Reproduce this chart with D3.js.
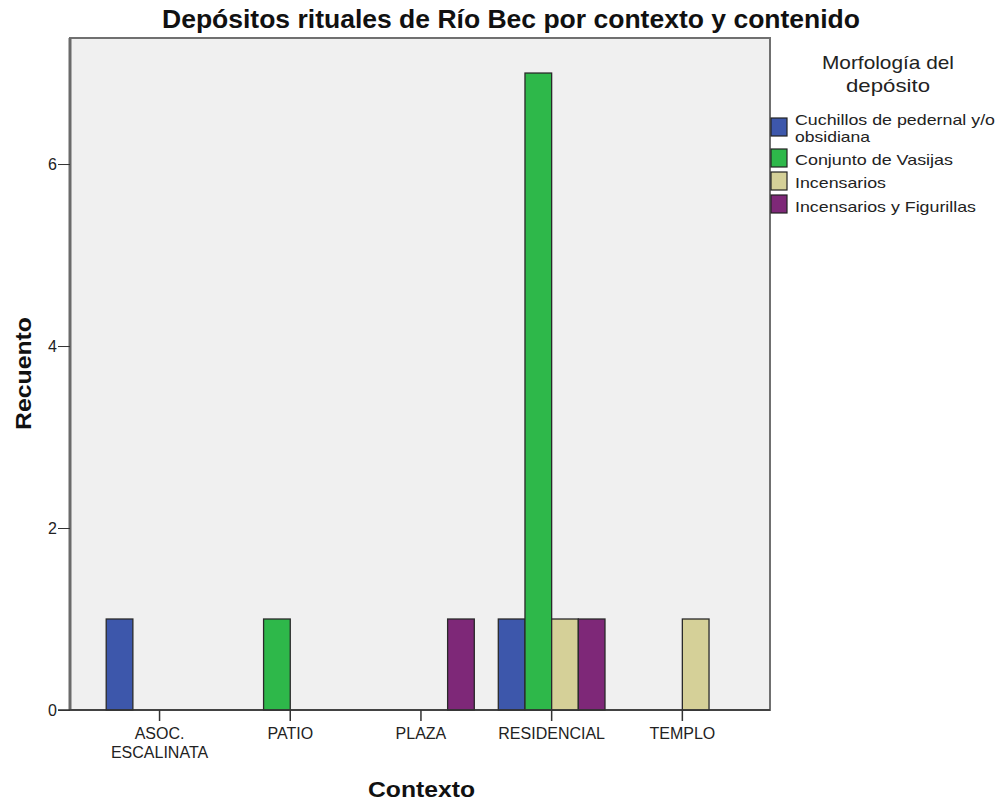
<!DOCTYPE html>
<html><head><meta charset="utf-8">
<script src="https://cdn.jsdelivr.net/npm/d3@7"></script>
<style>body{margin:0;background:#fff}svg{display:block}text{font-family:"Liberation Sans",Arial,sans-serif}</style>
</head><body>
<svg id="c" width="1000" height="806"></svg>
<script>
const categories = ["ASOC.\nESCALINATA","PATIO","PLAZA","RESIDENCIAL","TEMPLO"];
const seriesNames = ["Cuchillos de pedernal y/o obsidiana","Conjunto de Vasijas","Incensarios","Incensarios y Figurillas"];
const seriesLegend = [["Cuchillos de pedernal y/o","obsidiana"],["Conjunto de Vasijas"],["Incensarios"],["Incensarios y Figurillas"]];
const colors = ["#3d57ab","#2eb84a","#d5d098","#7e2878"];
// counts per category, one array per series (0 = absent)
const cuchillos = [1,0,0,1,0];
const vasijas   = [0,1,0,7,0];
const incensarios = [0,0,0,1,1];
const incFigurillas = [0,0,1,1,0];
const seriesValues = [cuchillos, vasijas, incensarios, incFigurillas];
const yTicks = [0,2,4,6];

const svg = d3.select("#c");
const L=70, R=770, T=38, B=710;
const y = d3.scaleLinear().domain([0,7.385]).range([B,T]);
const x0 = d3.scaleBand().domain(categories).range([94.2,747.7]).paddingInner(0);
const x1 = d3.scaleBand().domain(seriesNames).range([0,x0.bandwidth()]).paddingOuter(0.45).paddingInner(0);

svg.append("rect").attr("x",L).attr("y",T).attr("width",R-L).attr("height",B-T).attr("fill","#f0f0f0").attr("stroke","#707070").attr("stroke-width",2);

const bars=[];
categories.forEach((c,i)=>seriesNames.forEach((s,j)=>{ if(seriesValues[j][i]>0) bars.push({c,s,j,v:seriesValues[j][i]}); }));
svg.append("g").selectAll("rect").data(bars).join("rect")
  .attr("x",d=>x0(d.c)+x1(d.s)).attr("width",x1.bandwidth())
  .attr("y",d=>y(d.v)).attr("height",d=>y(0)-y(d.v))
  .attr("fill",d=>colors[d.j]).attr("stroke","#2a2a2a").attr("stroke-width",1.3);

// y axis
const ya = svg.append("g").attr("transform",`translate(${L},0)`)
  .call(d3.axisLeft(y).tickValues(yTicks).tickSize(12).tickPadding(1).tickFormat(d3.format("d")));
ya.select(".domain").attr("stroke","#6a6a6a").attr("stroke-width",3).attr("d",`M0,${T}V${B}`);
ya.selectAll(".tick line").attr("stroke","#333");
ya.selectAll(".tick text").attr("font-size",16).attr("fill","#222").style("font-family","Liberation Sans, Arial");

// x axis
const xa = svg.append("g").attr("transform",`translate(0,${B})`)
  .call(d3.axisBottom(x0).tickSize(11).tickPadding(6).tickFormat(""));
xa.select(".domain").attr("stroke","#333").attr("stroke-width",1.5).attr("d",`M${L-12},0H${R}`);
xa.selectAll(".tick line").attr("stroke","#333").attr("stroke-width",1.5);
xa.selectAll(".tick").each(function(d){
  const lines=d.split("\n");
  const t=d3.select(this).append("text").attr("fill","#222").attr("font-size",16).attr("text-anchor","middle").attr("y",29);
  lines.forEach((ln,k)=>t.append("tspan").attr("x",0).attr("dy",k?19:0).text(ln));
});

// titles
svg.append("text").attr("x",511).attr("y",28).attr("text-anchor","middle").attr("font-size",25).attr("font-weight","bold").attr("fill","#111")
  .attr("textLength",698).attr("lengthAdjust","spacingAndGlyphs").text("Depósitos rituales de Río Bec por contexto y contenido");
svg.append("text").attr("x",421.5).attr("y",797).attr("text-anchor","middle").attr("font-size",22).attr("font-weight","bold").attr("fill","#111")
  .attr("textLength",107).attr("lengthAdjust","spacingAndGlyphs").text("Contexto");
svg.append("text").attr("transform","translate(31,373.5) rotate(-90)").attr("text-anchor","middle").attr("font-size",22).attr("font-weight","bold").attr("fill","#111")
  .attr("textLength",113).attr("lengthAdjust","spacingAndGlyphs").text("Recuento");

// legend
const lg = svg.append("g");
const ttl = [["Morfología del",69,132],["depósito",92,84]];
ttl.forEach(([s,yy,w])=>lg.append("text").attr("x",888).attr("y",yy).attr("text-anchor","middle").attr("font-size",19).attr("fill","#222")
  .attr("textLength",w).attr("lengthAdjust","spacingAndGlyphs").text(s));
const swY=[118,149,172,195];
const lineY=[[125,141.5],[165],[188.3],[211.7]];
const lineW=[[200,75],[158],[91],[181]];
seriesLegend.forEach((lines,j)=>{
  lg.append("rect").attr("x",771).attr("y",swY[j]).attr("width",16).attr("height",18).attr("fill",colors[j]).attr("stroke","#222").attr("stroke-width",1.2);
  lines.forEach((ln,k)=>lg.append("text").attr("font-size",15).attr("fill","#222").attr("x",795).attr("y",lineY[j][k])
    .attr("textLength",lineW[j][k]).attr("lengthAdjust","spacingAndGlyphs").text(ln));
});
</script>
</body></html>
